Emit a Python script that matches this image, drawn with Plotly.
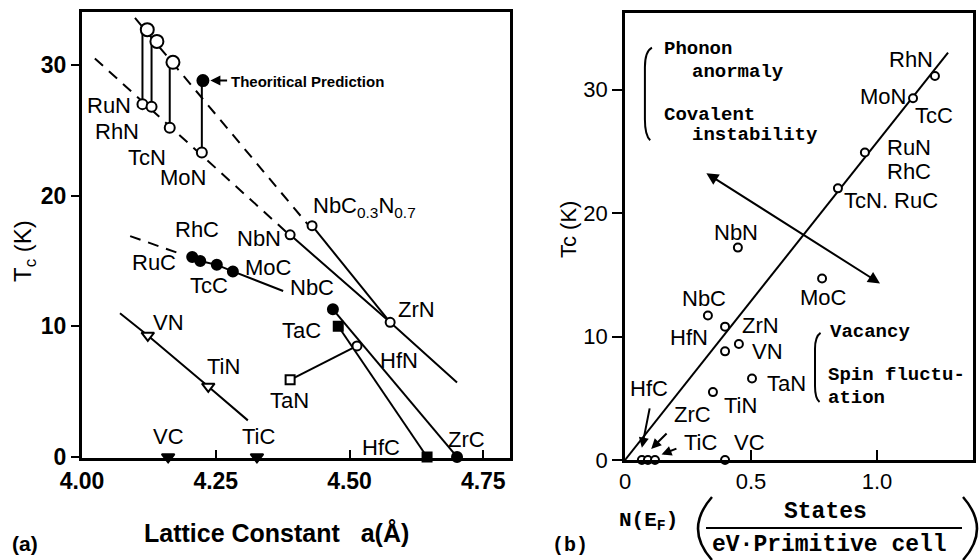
import plotly.graph_objects as go

# ---------------- (a) Tc versus lattice constant ----------------
# nitrides: predicted (upper) and measured (lower) Tc
pred_names = ["RuN", "RhN", "TcN", "MoN"]
pred_a = [4.122, 4.140, 4.170, 4.226]
pred_tc = [32.7, 31.8, 30.2, 28.8]
meas_a = [4.113, 4.130, 4.164, 4.224]
meas_tc = [27.0, 26.8, 25.2, 23.3]

# 4d carbides (filled circles)
carb_names = ["RuC", "RhC", "TcC", "MoC"]
carb_a = [4.206, 4.221, 4.252, 4.282]
carb_tc = [15.3, 15.0, 14.7, 14.2]

# open circles
open_names = ["NbN", "NbC0.3N0.7", "ZrN", "HfN"]
open_a = [4.389, 4.430, 4.576, 4.514]
open_tc = [17.0, 17.7, 10.3, 8.5]

# filled circles NbC, ZrC
fc_names = ["NbC", "ZrC"]
fc_a = [4.469, 4.701]
fc_tc = [11.3, 0.0]

# filled squares TaC, HfC; open square TaN
fs_names = ["TaC", "HfC"]
fs_a = [4.479, 4.645]
fs_tc = [10.0, 0.0]
os_names = ["TaN"]
os_a = [4.389]
os_tc = [5.9]

# triangles: VN, TiN (open); VC, TiC (filled)
ot_names = ["VN", "TiN"]
ot_a = [4.123, 4.236]
ot_tc = [9.3, 5.4]
ft_names = ["VC", "TiC"]
ft_a = [4.161, 4.327]
ft_tc = [0.0, 0.0]

# guide lines
dash_hi_a = [4.099, 4.426]
dash_hi_tc = [33.6, 17.6]
dash_lo_a = [4.024, 4.385]
dash_lo_tc = [30.5, 17.1]
dash_c_a = [4.090, 4.187]
dash_c_tc = [16.9, 15.5]
zrn_line_a = [4.389, 4.576, 4.701]
zrn_line_tc = [17.0, 10.3, 5.7]
carb_line_a = [4.206, 4.221, 4.252, 4.282, 4.376]
carb_line_tc = [15.3, 15.0, 14.7, 14.2, 12.7]
vn_line_a = [4.071, 4.123, 4.236, 4.310]
vn_line_tc = [11.0, 9.3, 5.4, 2.8]

# ---------------- (b) Tc versus N(E_F) ----------------
nef_names = ["RhN", "MoN/TcC", "RuN/RhC", "TcN/RuC", "NbN", "MoC", "NbC", "ZrN",
             "HfN", "VN", "TaN", "TiN", "VC", "HfC", "ZrC", "TiC"]
nef = [1.230, 1.143, 0.952, 0.845, 0.448, 0.782, 0.329, 0.397,
       0.397, 0.452, 0.504, 0.349, 0.397, 0.067, 0.091, 0.119]
nef_tc = [31.1, 29.3, 24.9, 22.0, 17.2, 14.7, 11.7, 10.8,
          8.8, 9.4, 6.6, 5.5, 0.0, 0.0, 0.0, 0.0]
fit_nef = [0.0, 1.282]
fit_tc = [0.0, 33.0]
trend_nef = [0.317, 1.012]
trend_tc = [23.3, 14.3]

BLACK = "black"
SANS = "Liberation Sans"
MONO = "Liberation Mono"

fig = go.Figure()


def add_line(xs, ys, dash="solid", panel=1, width=2):
    fig.add_trace(go.Scatter(
        x=xs, y=ys, mode="lines", line=dict(color=BLACK, width=width, dash=dash),
        xaxis="x" if panel == 1 else "x2", yaxis="y" if panel == 1 else "y2",
        hoverinfo="skip", showlegend=False))


def add_pts(xs, ys, names, symbol, filled, size, panel=1, lw=2):
    fig.add_trace(go.Scatter(
        x=xs, y=ys, text=names, mode="markers",
        marker=dict(symbol=symbol, size=size, color=BLACK if filled else "white",
                    line=dict(color=BLACK, width=lw)),
        xaxis="x" if panel == 1 else "x2", yaxis="y" if panel == 1 else "y2",
        cliponaxis=False, showlegend=False, hovertemplate="%{text}<extra></extra>"))


# ---- panel (a) lines
add_line(dash_hi_a, dash_hi_tc, dash="11px,8px")
add_line(dash_lo_a, dash_lo_tc, dash="11px,8px")
add_line(dash_c_a, dash_c_tc, dash="11px,8px")
for xa, lo, hi in zip(meas_a, meas_tc, pred_tc):
    add_line([xa, xa], [lo, hi])
add_line(zrn_line_a, zrn_line_tc)
add_line([open_a[1], open_a[2]], [open_tc[1], open_tc[2]])
add_line(carb_line_a, carb_line_tc)
add_line(fc_a, fc_tc)
add_line(fs_a, fs_tc)
add_line([os_a[0], open_a[3]], [os_tc[0], open_tc[3]])
add_line(vn_line_a, vn_line_tc)

# ---- panel (a) markers
add_pts(meas_a, meas_tc, pred_names, "circle", False, 10)
add_pts(pred_a[:3], pred_tc[:3], pred_names[:3], "circle", False, 13)
add_pts(pred_a[3:], pred_tc[3:], pred_names[3:], "circle", True, 11)
add_pts(carb_a, carb_tc, carb_names, "circle", True, 10)
add_pts(open_a, open_tc, open_names, "circle", False, 9)
add_pts(fc_a, fc_tc, fc_names, "circle", True, 10)
add_pts(fs_a, fs_tc, fs_names, "square", True, 9)
add_pts(os_a, os_tc, os_names, "square", False, 9)
add_pts(ot_a, ot_tc, ot_names, "triangle-down", False, 11)
add_pts(ft_a, ft_tc, ft_names, "triangle-down", True, 11)

# ---- panel (b)
add_line(fit_nef, fit_tc, panel=2)
add_pts(nef, nef_tc, nef_names, "circle", False, 8, panel=2)

annotations = []


def label(text, x, y, panel=1, size=22, font=SANS, xanchor="left", weight="normal"):
    annotations.append(dict(
        text=text, x=x, y=y, xref="x" if panel == 1 else "x2",
        yref="y" if panel == 1 else "y2", showarrow=False,
        xanchor=xanchor, yanchor="middle",
        font=dict(family=font, size=size, color=BLACK, weight=weight)))


def paper_text(text, px, py, size=22, font=SANS, angle=0, weight="normal"):
    annotations.append(dict(
        text=text, x=px / 979, y=1 - py / 560, xref="paper", yref="paper",
        showarrow=False, xanchor="center", yanchor="middle", textangle=angle,
        font=dict(family=font, size=size, color=BLACK, weight=weight)))


def pointer(x0, y0, x1, y1, panel=1):
    xr = "x" if panel == 1 else "x2"
    yr = "y" if panel == 1 else "y2"
    annotations.append(dict(
        text="", x=x1, y=y1, ax=x0, ay=y0, xref=xr, yref=yr,
        axref=xr, ayref=yr, showarrow=True, arrowhead=2, arrowsize=1,
        arrowwidth=2, arrowcolor=BLACK))


# compound labels, panel (a)
for t, x, y in [
    ("RuN", 4.005, 26.9), ("RhN", 4.020, 24.9), ("TcN", 4.082, 22.95),
    ("MoN", 4.142, 21.4), ("NbC<sub>0.3</sub>N<sub>0.7</sub>", 4.428, 19.1),
    ("NbN", 4.286, 16.75), ("RhC", 4.170, 17.4), ("RuC", 4.089, 14.85),
    ("MoC", 4.301, 14.5), ("TcC", 4.198, 13.15), ("NbC", 4.385, 13.0),
    ("ZrN", 4.587, 11.25), ("TaC", 4.370, 9.7), ("HfN", 4.553, 7.4),
    ("TaN", 4.347, 4.35), ("VN", 4.129, 10.3), ("TiN", 4.230, 6.9),
    ("TiC", 4.295, 1.55), ("VC", 4.129, 1.55), ("HfC", 4.519, 0.75),
    ("ZrC", 4.680, 1.3),
]:
    label(t, x, y)

label("Theoritical Prediction", 4.275, 28.75, size=15, weight="bold")
pointer(4.274, 28.8, 4.240, 28.8)

# compound labels, panel (b)
for t, x, y in [
    ("RhN", 1.040, 32.4), ("MoN", 0.925, 29.4), ("TcC", 1.143, 27.9),
    ("RuN", 1.032, 25.3), ("RhC", 1.032, 23.4), ("TcN. RuC", 0.861, 21.05),
    ("NbN", 0.345, 18.4), ("MoC", 0.687, 13.2), ("NbC", 0.218, 13.1),
    ("ZrN", 0.456, 10.9), ("HfN", 0.171, 9.9), ("VN", 0.496, 8.75),
    ("TaN", 0.556, 6.2), ("TiN", 0.385, 4.45), ("HfC", 0.012, 5.8),
    ("ZrC", 0.187, 3.65), ("TiC", 0.226, 1.4), ("VC", 0.425, 1.45),
]:
    label(t, x, y, panel=2)

for t, x, y in [
    ("Phonon", 0.147, 33.3), ("anormaly", 0.258, 31.4),
    ("Covalent", 0.147, 27.9), ("instability", 0.258, 26.3),
    ("Vacancy", 0.806, 10.4), ("Spin fluctu-", 0.798, 6.9), ("ation", 0.798, 5.0),
]:
    label(t, x, y, panel=2, size=19, font=MONO, weight="bold")

# pointers from labels to the points at Tc = 0
pointer(0.099, 4.3, 0.067, 1.0, panel=2)
pointer(0.171, 2.27, 0.104, 0.9, panel=2)
pointer(0.210, 0.97, 0.145, 0.45, panel=2)

# double-headed trend arrow
annotations.append(dict(
    text="", x=trend_nef[1], y=trend_tc[1], ax=trend_nef[0], ay=trend_tc[0],
    xref="x2", yref="y2", axref="x2", ayref="y2", showarrow=True,
    arrowhead=2, startarrowhead=2, arrowside="end+start", arrowsize=1.2,
    startarrowsize=1.2, arrowwidth=2, arrowcolor=BLACK))

# axis titles and panel tags
paper_text("T<sub>c</sub> (K)", 25, 251, size=24, angle=-90)
paper_text("Lattice Constant   a(Å)", 276, 533, size=25, weight="bold")
paper_text("(a)", 25, 543, size=21, weight="bold")
paper_text("Tc (K)", 568, 230, size=22, angle=-90)
paper_text("(b)", 570, 545, size=20, font=MONO, weight="bold")
paper_text("N(E<sub>F</sub>)", 648, 521, size=21, font=MONO, weight="bold")
paper_text("States", 825, 512, size=23, font=MONO, weight="bold")
paper_text("eV·Primitive cell", 829, 545, size=23, font=MONO, weight="bold")


def px(x):
    return x / 979


def py(y):
    return 1 - y / 560


shapes = [
    # big parentheses and fraction bar
    dict(type="path", xref="paper", yref="paper", line=dict(color=BLACK, width=2.5),
         path=f"M {px(712)} {py(497)} Q {px(684)} {py(529)} {px(712)} {py(560)}"),
    dict(type="path", xref="paper", yref="paper", line=dict(color=BLACK, width=2.5),
         path=f"M {px(963)} {py(497)} Q {px(991)} {py(529)} {px(963)} {py(560)}"),
    dict(type="line", xref="paper", yref="paper", x0=px(706), x1=px(962),
         y0=py(528), y1=py(528), line=dict(color=BLACK, width=2)),
    # curly brackets in panel (b)
    dict(type="path", xref="x2", yref="y2", line=dict(color=BLACK, width=2),
         path="M 0.107 33.4 Q 0.079 33.1 0.079 31.8 L 0.079 27.6 Q 0.079 26.3 0.100 25.9"),
    dict(type="path", xref="x2", yref="y2", line=dict(color=BLACK, width=2),
         path="M 0.776 10.3 Q 0.754 10.0 0.754 9.0 L 0.754 6.0 Q 0.754 5.0 0.772 4.7"),
]

axis_font = dict(family=SANS, size=23, color=BLACK, weight="bold")
fig.update_layout(
    width=979, height=560,
    margin=dict(l=0, r=0, t=0, b=0, pad=0, autoexpand=False),
    paper_bgcolor="white", plot_bgcolor="white", showlegend=False,
    annotations=annotations, shapes=shapes,
    xaxis=dict(domain=[82 / 979, 510 / 979], range=[4.0, 4.80], anchor="y",
               tickvals=[4.0, 4.25, 4.5, 4.75], ticktext=["4.00", "4.25", "4.50", "4.75"],
               ticks="inside", ticklen=8, tickwidth=2, tickcolor=BLACK,
               showline=True, linecolor=BLACK, linewidth=3, mirror=True,
               showgrid=False, zeroline=False, tickfont=axis_font, automargin=False),
    yaxis=dict(domain=[py(458), py(12)], range=[-0.08, 34.05], anchor="x",
               tickvals=[0, 10, 20, 30], ticks="outside", ticklen=8, tickwidth=2,
               tickcolor=BLACK, showline=True, linecolor=BLACK, linewidth=3,
               mirror=True, showgrid=False, zeroline=False, tickfont=axis_font,
               automargin=False),
    xaxis2=dict(domain=[625 / 979, 973 / 979], range=[0, 1.381], anchor="y2",
                tickvals=[0, 0.5, 1.0], ticktext=["0", "0.5", "1.0"],
                ticks="inside", ticklen=10, tickwidth=2, tickcolor=BLACK,
                showline=True, linecolor=BLACK, linewidth=2.5, mirror=True,
                showgrid=False, zeroline=False, automargin=False,
                tickfont=dict(family=SANS, size=22, color=BLACK)),
    yaxis2=dict(domain=[py(460), py(13)], range=[0, 36.2], anchor="x2",
                tickvals=[0, 10, 20, 30], ticks="outside", ticklen=10, tickwidth=2,
                tickcolor=BLACK, showline=True, linecolor=BLACK, linewidth=2.5,
                mirror=True, showgrid=False, zeroline=False, automargin=False,
                tickfont=dict(family=SANS, size=22, color=BLACK)),
)

fig.write_html("out.html")
